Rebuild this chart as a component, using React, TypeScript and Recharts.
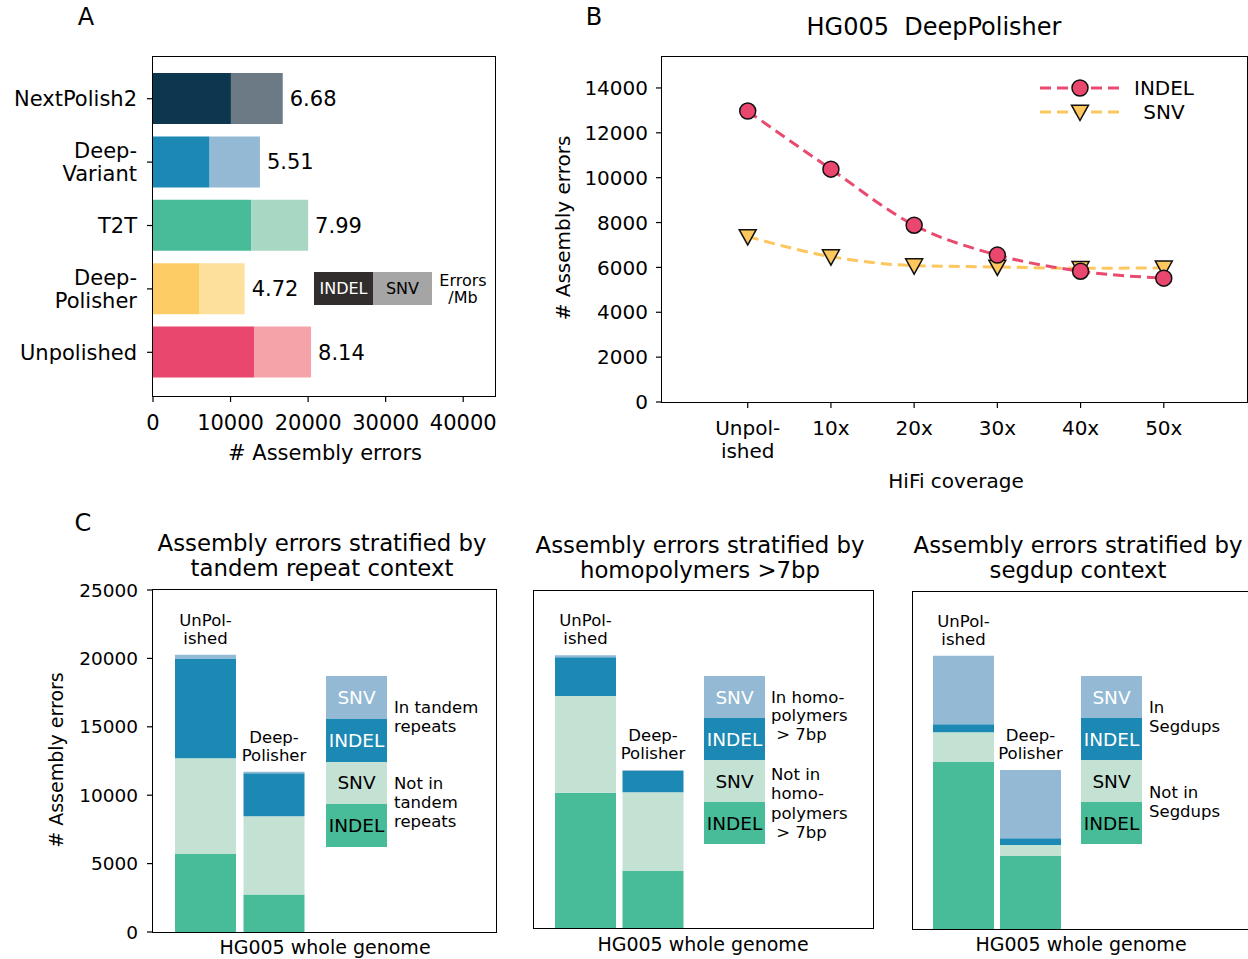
// Multi-panel figure: polishing errors (A), coverage titration (B), stratified errors (C)
import { Bar, BarChart, Cell, LabelList, Line, LineChart, XAxis, YAxis } from "recharts";

const FONT = "'DejaVu Sans', sans-serif";

// Panel A: errors per method
const methods = ["NextPolish2", "Deep-\nVariant", "T2T", "Deep-\nPolisher", "Unpolished"];
const methodIndel = [10050, 7300, 12650, 5930, 13030];
const methodSnv = [6680, 6490, 7350, 5890, 7350];
const errorsPerMb = ["6.68", "5.51", "7.99", "4.72", "8.14"];
const indelColors = ["#0d374f", "#1c88b4", "#48bc98", "#fecc64", "#ea476e"];
const snvColors = ["#6b7a85", "#93b9d4", "#a8d7c3", "#fde09c", "#f4a4a9"];
const errorTicks = [0, 10000, 20000, 30000, 40000];

// Panel B: HiFi coverage
const coverages = ["Unpol-\nished", "10x", "20x", "30x", "40x", "50x"];
const indelByCoverage = [12970, 10380, 7880, 6550, 5830, 5520];
const snvByCoverage = [7380, 6480, 6080, 6020, 5960, 5980];
const coverageYTicks = [0, 2000, 4000, 6000, 8000, 10000, 12000, 14000];

// Panel C: stratified stacks (UnPolished, DeepPolisher)
const stackNames = ["UnPolished", "DeepPolisher"];
const stackLabels = ["UnPol-\nished", "Deep-\nPolisher"];
const trIndelOut = [5700, 2750];
const trSnvOut = [7000, 5710];
const trIndelIn = [7300, 3140];
const trSnvIn = [270, 120];
const hpIndelOut = [10040, 4230];
const hpSnvOut = [7170, 5840];
const hpIndelIn = [2870, 1600];
const hpSnvIn = [150, 50];
const sdIndelOut = [12390, 5420];
const sdSnvOut = [2200, 810];
const sdIndelIn = [600, 500];
const sdSnvIn = [5080, 5070];
const stratTicks = [0, 5000, 10000, 15000, 20000, 25000];

const C_INDEL_OUT = "#48bc98";
const C_SNV_OUT = "#c4e2d4";
const C_INDEL_IN = "#1c88b4";
const C_SNV_IN = "#93b9d4";

const methodRows = methods.map((m, i) => ({
  method: m,
  indel: methodIndel[i],
  snv: methodSnv[i],
  rate: errorsPerMb[i],
}));

const coverageRows = coverages.map((c, i) => ({
  idx: i,
  indel: indelByCoverage[i],
  snv: snvByCoverage[i],
}));

function stackRows(indelOut: number[], snvOut: number[], indelIn: number[], snvIn: number[]) {
  return stackNames.map((n, i) => ({
    name: n,
    label: stackLabels[i],
    indelOut: indelOut[i],
    snvOut: snvOut[i],
    indelIn: indelIn[i],
    snvIn: snvIn[i],
  }));
}

function Txt({ x, y, size, text, lh, rotate, anchor = "center" }: any) {
  const tx = anchor === "center" ? "-50%" : "0";
  return (
    <div
      style={{
        position: "absolute",
        left: x,
        top: y,
        transform: `translate(${tx},-50%)${rotate ? ` rotate(${rotate}deg)` : ""}`,
        transformOrigin: anchor === "center" ? "center" : "left center",
        whiteSpace: "pre",
        fontSize: size,
        lineHeight: `${lh ?? size * 1.15}px`,
        textAlign: anchor === "center" ? "center" : "left",
      }}
    >
      {text}
    </div>
  );
}

function Frame({ x, y, w, h }: any) {
  return (
    <div
      style={{
        position: "absolute",
        left: x - 0.75,
        top: y - 0.75,
        width: w + 1.5,
        height: h + 1.5,
        border: "1.5px solid #000",
        boxSizing: "border-box",
        pointerEvents: "none",
      }}
    />
  );
}

function MethodTick({ x, y, payload }: any) {
  const lines = String(payload.value).split("\n");
  const fs = 21;
  const lh = 23;
  return (
    <text textAnchor="end" fontSize={fs} fill="#000" fontFamily={FONT}>
      {lines.map((l, i) => (
        <tspan key={i} x={x} y={y + (i - (lines.length - 1) / 2) * lh + fs * 0.36}>
          {l}
        </tspan>
      ))}
    </text>
  );
}

function CoverageTick({ x, y, payload }: any) {
  const lines = (coverages[payload.value] ?? "").split("\n");
  const fs = 20;
  const lh = 23;
  return (
    <text textAnchor="middle" fontSize={fs} fill="#000" fontFamily={FONT}>
      {lines.map((l, i) => (
        <tspan key={i} x={x} y={y + fs * 0.73 + i * lh}>
          {l}
        </tspan>
      ))}
    </text>
  );
}

function CircleDot({ cx, cy }: any) {
  if (cx == null || cy == null) return null;
  return <circle cx={cx} cy={cy} r={8} fill="#ea476e" stroke="#111" strokeWidth={1.5} />;
}

function TriangleDot({ cx, cy }: any) {
  if (cx == null || cy == null) return null;
  const s = 8.5;
  return (
    <path
      d={`M${cx - s},${cy - s * 0.8} L${cx + s},${cy - s * 0.8} L${cx},${cy + s} Z`}
      fill="#fdc75e"
      stroke="#111"
      strokeWidth={1.5}
    />
  );
}

function StackLabel({ x, y, width, value }: any) {
  if (x == null || y == null) return null;
  const lines = String(value).split("\n");
  const cx = x + width / 2;
  const fs = 16.5;
  const lh = 18;
  return (
    <text textAnchor="middle" fontSize={fs} fill="#000" fontFamily={FONT}>
      {lines.map((l, i) => (
        <tspan key={i} x={cx} y={y - 17 - (lines.length - 1 - i) * lh + fs * 0.36}>
          {l}
        </tspan>
      ))}
    </text>
  );
}

function StackKey({ x, y, blockH }: any) {
  const blocks = [
    ["SNV", C_SNV_IN, "#fff"],
    ["INDEL", C_INDEL_IN, "#fff"],
    ["SNV", C_SNV_OUT, "#000"],
    ["INDEL", C_INDEL_OUT, "#000"],
  ];
  return (
    <div style={{ position: "absolute", left: x, top: y, width: 61 }}>
      {blocks.map(([t, bg, fg], i) => (
        <div
          key={i}
          style={{
            height: blockH,
            background: bg,
            color: fg,
            fontSize: 18.5,
            display: "flex",
            alignItems: "center",
            justifyContent: "center",
          }}
        >
          {t}
        </div>
      ))}
    </div>
  );
}

function StratChart({ rows, left, top, width, margin, padding, xAxisH, showY }: any) {
  return (
    <div style={{ position: "absolute", left, top }}>
      <BarChart width={width} height={379} data={rows} margin={margin}>
        <XAxis dataKey="name" type="category" padding={padding} tick={false} tickLine={false} axisLine={false} height={xAxisH} />
        <YAxis
          type="number"
          domain={[0, 25000]}
          ticks={stratTicks}
          hide={!showY}
          width={113}
          axisLine={false}
          tickLine={{ stroke: "#000", strokeWidth: 1.2 }}
          tickMargin={9}
          tick={{ fontSize: 18.5, fill: "#000", fontFamily: FONT }}
          allowDataOverflow
        />
        <Bar dataKey="indelOut" stackId="s" fill={C_INDEL_OUT} barSize={61} isAnimationActive={false} />
        <Bar dataKey="snvOut" stackId="s" fill={C_SNV_OUT} barSize={61} isAnimationActive={false} />
        <Bar dataKey="indelIn" stackId="s" fill={C_INDEL_IN} barSize={61} isAnimationActive={false} />
        <Bar dataKey="snvIn" stackId="s" fill={C_SNV_IN} barSize={61} isAnimationActive={false}>
          <LabelList dataKey="label" content={StackLabel} />
        </Bar>
      </BarChart>
    </div>
  );
}

export default function App() {
  return (
    <div
      style={{
        position: "absolute",
        left: 0,
        top: 0,
        width: 1248,
        height: 959,
        overflow: "hidden",
        background: "#fff",
        fontFamily: FONT,
        color: "#000",
      }}
    >
      {/* Panel A */}
      <Txt x={86} y={18} size={24} text="A" />
      <div style={{ position: "absolute", left: 0, top: 0 }}>
        <BarChart
          width={500}
          height={470}
          data={methodRows}
          layout="vertical"
          margin={{ top: 57, right: 5, left: 0, bottom: 0 }}
        >
          <XAxis
            type="number"
            domain={[0, 44100]}
            ticks={errorTicks}
            height={74}
            axisLine={false}
            tickLine={{ stroke: "#000", strokeWidth: 1.2 }}
            tickMargin={13}
            tick={{ fontSize: 21, fill: "#000", fontFamily: FONT }}
            allowDataOverflow
          />
          <YAxis
            type="category"
            dataKey="method"
            width={153}
            padding={{ top: 10, bottom: 12 }}
            axisLine={false}
            tickLine={{ stroke: "#000", strokeWidth: 1.2 }}
            tickMargin={10}
            tick={<MethodTick />}
            interval={0}
          />
          <Bar dataKey="indel" stackId="a" barSize={51} isAnimationActive={false}>
            {methodRows.map((r, i) => (
              <Cell key={r.method} fill={indelColors[i]} />
            ))}
          </Bar>
          <Bar dataKey="snv" stackId="a" barSize={51} isAnimationActive={false}>
            {methodRows.map((r, i) => (
              <Cell key={r.method} fill={snvColors[i]} />
            ))}
            <LabelList dataKey="rate" position="right" offset={7} fill="#000" fontSize={21} fontFamily={FONT} />
          </Bar>
        </BarChart>
      </div>
      <Frame x={153} y={57} w={342} h={339} />
      <div style={{ position: "absolute", left: 314, top: 272, width: 59, height: 33, background: "#312d2d", color: "#fff", fontSize: 16, display: "flex", alignItems: "center", justifyContent: "center" }}>INDEL</div>
      <div style={{ position: "absolute", left: 373, top: 272, width: 59, height: 33, background: "#a5a5a5", color: "#000", fontSize: 16, display: "flex", alignItems: "center", justifyContent: "center" }}>SNV</div>
      <Txt x={463} y={289} size={16} lh={17} text={"Errors\n/Mb"} />
      <Txt x={325} y={453} size={21} text="# Assembly errors" />

      {/* Panel B */}
      <Txt x={594} y={18} size={24} text="B" />
      <Txt x={934} y={28} size={24} text="HG005  DeepPolisher" />
      <div style={{ position: "absolute", left: 540, top: 0 }}>
        <LineChart width={708} height={500} data={coverageRows} margin={{ top: 57, right: 1, left: 0, bottom: 0 }}>
          <XAxis
            type="number"
            dataKey="idx"
            domain={[-1.03, 6]}
            ticks={[0, 1, 2, 3, 4, 5]}
            height={98}
            axisLine={false}
            tickLine={{ stroke: "#000", strokeWidth: 1.2 }}
            tickMargin={12}
            tick={<CoverageTick />}
            allowDataOverflow
          />
          <YAxis
            type="number"
            domain={[0, 15380]}
            ticks={coverageYTicks}
            width={122}
            axisLine={false}
            tickLine={{ stroke: "#000", strokeWidth: 1.2 }}
            tickMargin={8}
            tick={{ fontSize: 20, fill: "#000", fontFamily: FONT }}
            allowDataOverflow
          />
          <Line
            type="monotone"
            dataKey="snv"
            stroke="#fdc75e"
            strokeWidth={3}
            strokeDasharray="11 6"
            dot={<TriangleDot />}
            activeDot={false}
            isAnimationActive={false}
          />
          <Line
            type="monotone"
            dataKey="indel"
            stroke="#e94b6f"
            strokeWidth={3}
            strokeDasharray="11 6"
            dot={<CircleDot />}
            activeDot={false}
            isAnimationActive={false}
          />
        </LineChart>
      </div>
      <Frame x={662} y={57} w={585} h={345} />
      <svg style={{ position: "absolute", left: 1030, top: 75 }} width={100} height={50}>
        <line x1={10} y1={13} x2={92} y2={13} stroke="#e94b6f" strokeWidth={3} strokeDasharray="11 6" />
        <circle cx={50} cy={13} r={8} fill="#ea476e" stroke="#111" strokeWidth={1.5} />
        <line x1={10} y1={37} x2={92} y2={37} stroke="#fdc75e" strokeWidth={3} strokeDasharray="11 6" />
        <path d="M41.5,30.2 L58.5,30.2 L50,45.5 Z" fill="#fdc75e" stroke="#111" strokeWidth={1.5} />
      </svg>
      <Txt x={1164} y={88} size={20} text="INDEL" />
      <Txt x={1164} y={112} size={20} text="SNV" />
      <Txt x={563} y={228} size={20} text="# Assembly errors" rotate={-90} />
      <Txt x={956} y={481} size={20} text="HiFi coverage" />

      {/* Panel C */}
      <Txt x={83} y={524} size={24} text="C" />
      <Txt x={322} y={556} size={22.8} lh={25} text={"Assembly errors stratified by\ntandem repeat context"} />
      <Txt x={700} y={558} size={22.8} lh={25} text={"Assembly errors stratified by\nhomopolymers >7bp"} />
      <Txt x={1078} y={558} size={22.8} lh={25} text={"Assembly errors stratified by\nsegdup context"} />

      <StratChart
        rows={stackRows(trIndelOut, trSnvOut, trIndelIn, trSnvIn)}
        left={40}
        top={580}
        width={460}
        margin={{ top: 10, right: 4, left: 0, bottom: 0 }}
        padding={{ left: 18, right: 188 }}
        xAxisH={27}
        showY
      />
      <Frame x={153} y={590} w={343} h={342} />
      <StackKey x={326} y={676} blockH={42.75} />
      <Txt x={394} y={716.5} size={16.5} lh={19} anchor="left" text={"In tandem\nrepeats"} />
      <Txt x={394} y={802} size={16.5} lh={19} anchor="left" text={"Not in\ntandem\nrepeats"} />
      <Txt x={57} y={760} size={19} text="# Assembly errors" rotate={-90} />
      <Txt x={325} y={948} size={19} text="HG005 whole genome" />

      <StratChart
        rows={stackRows(hpIndelOut, hpSnvOut, hpIndelIn, hpSnvIn)}
        left={520}
        top={580}
        width={360}
        margin={{ top: 11, right: 7, left: 14, bottom: 0 }}
        padding={{ left: 18, right: 186 }}
        xAxisH={31}
        showY={false}
      />
      <Frame x={534} y={591} w={339} h={337} />
      <StackKey x={704} y={676} blockH={42} />
      <Txt x={771} y={716.5} size={16.5} lh={18.5} anchor="left" text={"In homo-\npolymers\n > 7bp"} />
      <Txt x={771} y={803.5} size={16.5} lh={19.5} anchor="left" text={"Not in\nhomo-\npolymers\n > 7bp"} />
      <Txt x={703} y={945} size={19} text="HG005 whole genome" />

      <StratChart
        rows={stackRows(sdIndelOut, sdSnvOut, sdIndelIn, sdSnvIn)}
        left={900}
        top={580}
        width={348}
        margin={{ top: 12, right: 1, left: 13, bottom: 0 }}
        padding={{ left: 17, right: 183 }}
        xAxisH={30}
        showY={false}
      />
      <Frame x={913} y={592} w={335} h={337} />
      <StackKey x={1081} y={676} blockH={42} />
      <Txt x={1149} y={716.5} size={16.5} lh={19} anchor="left" text={"In\nSegdups"} />
      <Txt x={1149} y={801.5} size={16.5} lh={19} anchor="left" text={"Not in\nSegdups"} />
      <Txt x={1081} y={945} size={19} text="HG005 whole genome" />
    </div>
  );
}
